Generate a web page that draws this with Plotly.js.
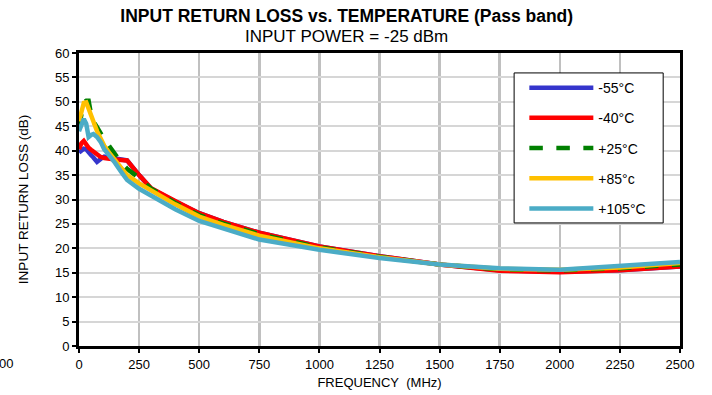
<!DOCTYPE html>
<html>
<head>
<meta charset="utf-8">
<script src="https://cdn.plot.ly/plotly-3.0.1.min.js"></script>
<style>html,body{margin:0;padding:0;background:#fff;}#chart{width:712px;height:395px;}</style>
</head>
<body>
<div id="chart"></div>
<script>
// Frequency (MHz)
var freq = [0, 10, 20, 30, 40, 50, 60, 75, 90, 105, 125, 150, 175, 200, 250, 300, 400, 500, 600, 750, 1000, 1250, 1500, 1750, 2000, 2250, 2500];

// Input return loss (dB) per temperature
var rlM55  = [39.6, 40.0, 40.4, 40.3, 39.5, 39.1, 38.6, 37.7, 38.3, 38.8, 38.6, 38.4, 38.2, 38.0, 35.0, 32.2, 29.6, 27.2, 25.4, 23.2, 20.4, 18.4, 16.7, 15.5, 15.2, 15.5, 16.3];
var rlM40  = [40.3, 41.5, 42.0, 41.2, 40.6, 40.2, 39.8, 39.1, 38.7, 38.5, 38.3, 38.2, 38.1, 38.0, 35.0, 32.3, 29.7, 27.2, 25.4, 23.2, 20.4, 18.4, 16.7, 15.4, 15.1, 15.5, 16.3];
var rlP25  = [44.8, 47.5, 50.0, 50.2, 50.2, 47.5, 46.0, 44.8, 43.4, 42.3, 41.0, 39.2, 37.6, 36.3, 34.4, 32.2, 29.3, 26.8, 25.1, 22.9, 20.2, 18.3, 16.7, 15.7, 15.5, 15.9, 16.7];
var rlP85  = [46.0, 48.0, 49.8, 49.9, 48.5, 47.2, 45.8, 44.0, 42.5, 41.0, 39.6, 38.0, 36.5, 35.0, 33.3, 31.8, 29.0, 26.5, 24.8, 22.6, 20.0, 18.2, 16.7, 15.8, 15.6, 16.1, 17.0];
var rlP105 = [44.0, 45.5, 46.5, 45.5, 42.8, 43.2, 43.4, 42.8, 41.8, 40.3, 39.2, 37.5, 35.7, 34.0, 32.2, 30.8, 28.0, 25.6, 24.0, 21.8, 19.7, 18.0, 16.7, 15.9, 15.6, 16.3, 17.2];

var seriesNames = ['-55°C', '-40°C', '+25°C', '+85°c', '+105°C'];
var xTicks = [0, 250, 500, 750, 1000, 1250, 1500, 1750, 2000, 2250, 2500];
var yTicks = [0, 5, 10, 15, 20, 25, 30, 35, 40, 45, 50, 55, 60];

var seriesData = [rlM55, rlM40, rlP25, rlP85, rlP105];
var colors = ['#3535cc', '#ff0000', '#008000', '#ffc000', '#4bacc6'];
var dashes = ['solid', 'solid', 'dash', 'solid', 'solid'];

var traces = seriesData.map(function (y, i) {
  return {
    x: freq, y: y, type: 'scatter', mode: 'lines',
    name: seriesNames[i], legendgroup: 'g' + i,
    line: {color: colors[i], width: 4.5, dash: dashes[i]}
  };
});

var font = 'Liberation Sans, Arial, sans-serif';
var layout = {
  width: 712, height: 395,
  margin: {l: 79, r: 32, t: 53, b: 49},
  paper_bgcolor: '#ffffff', plot_bgcolor: '#ffffff',
  font: {family: font, size: 13, color: '#000'},
  title: {
    text: '<b>INPUT RETURN LOSS vs. TEMPERATURE (Pass band)</b>',
    font: {family: font, size: 17.5, color: '#000'},
    x: 0.487, xref: 'container', xanchor: 'center',
    y: 0.9595, yref: 'container', yanchor: 'middle'
  },
  showlegend: true,
  legend: {
    x: 0.741, y: 0.935, xanchor: 'left', yanchor: 'top',
    bgcolor: 'rgba(0,0,0,0)', borderwidth: 0,
    font: {family: font, size: 14, color: '#000'},
    itemwidth: 64, tracegroupgap: 9, traceorder: 'grouped'
  },
  shapes: [{
    type: 'rect', xref: 'paper', yref: 'paper',
    x0: 0.724, x1: 0.972, y0: 0.420, y1: 0.932,
    fillcolor: '#ffffff', line: {color: '#000', width: 1}, layer: 'above'
  }],
  xaxis: {
    range: [0, 2500], tickvals: xTicks, ticktext: xTicks.map(String),
    showgrid: true, gridcolor: '#c0c0c0', gridwidth: 2.5,
    showline: true, linecolor: '#000', linewidth: 3, mirror: true,
    ticks: 'outside', ticklen: 4, tickwidth: 2, tickcolor: '#000',
    zeroline: false,
    tickfont: {family: font, size: 13, color: '#000'},
    title: {text: 'FREQUENCY&nbsp;&nbsp;(MHz)', font: {family: font, size: 13, color: '#000'}, standoff: 8}
  },
  yaxis: {
    range: [0, 60], tickvals: yTicks, ticktext: yTicks.map(String),
    showgrid: true, gridcolor: '#d6d6d6', gridwidth: 2,
    showline: true, linecolor: '#000', linewidth: 3, mirror: true,
    ticks: 'outside', ticklen: 4, tickwidth: 2, tickcolor: '#000',
    zeroline: false,
    tickfont: {family: font, size: 13, color: '#000'},
    title: {text: 'INPUT RETURN LOSS (dB)', font: {family: font, size: 13.5, color: '#000'}, standoff: 24}
  },
  annotations: [{
    text: 'INPUT POWER = -25 dBm', xref: 'paper', yref: 'paper',
    x: 0.445, y: 1.058, xanchor: 'center', yanchor: 'middle', showarrow: false,
    font: {family: font, size: 17, color: '#000'}
  }, {
    text: '00', xref: 'paper', yref: 'paper', x: -0.121, y: 0,
    xanchor: 'center', yanchor: 'top', yshift: -8, showarrow: false,
    font: {family: font, size: 13, color: '#000'}
  }]
};

Plotly.newPlot('chart', traces, layout, {displayModeBar: false, staticPlot: true});
</script>
</body>
</html>
